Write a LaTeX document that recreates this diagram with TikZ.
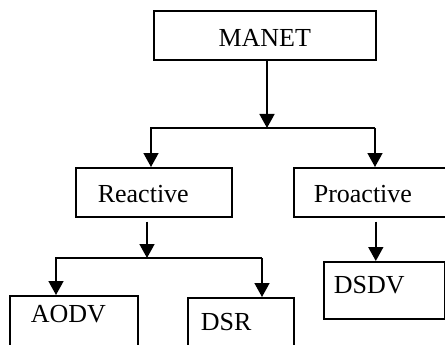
\documentclass[tikz,border=0pt]{standalone}
\usepackage{fontspec}
\setmainfont{Liberation Serif}
\usetikzlibrary{arrows.meta}
\tikzset{
  box/.style={draw, line width=1.6pt, anchor=north west, inner ysep=0pt, align=left, font=\fontsize{26}{30}\selectfont},
}
\begin{document}
\begin{tikzpicture}[x=1pt,y=-1pt,line width=1.6pt,>={Triangle[length=14pt,width=15pt]}]
  \useasboundingbox (0,0) rectangle (445,345);
  \fill[white] (0,0) rectangle (445,345);
  \clip (0,0) rectangle (445,345);
  % boxes
  \node[box,text width=202pt,inner xsep=10pt,align=center,text height=36pt,text depth=13pt] (manet) at (153,10) {MANET};
  \node[box,text width=112pt,inner xsep=22pt,text height=35pt,text depth=14pt] (reactive) at (75,167) {Reactive};
  \node[box,text width=124pt,inner xsep=20pt,text height=35pt,text depth=14pt] (proactive) at (293,167) {Proactive};
  \node[box,text width=86pt,inner xsep=21pt,text height=27pt,text depth=33pt] (aodv) at (9,295) {AODV};
  \node[box,text width=80pt,inner xsep=13pt,text height=33pt,text depth=27pt] (dsr) at (187,297) {DSR};
  \node[box,text width=101pt,inner xsep=10pt,text height=32pt,text depth=25pt] (dsdv) at (323,261) {DSDV};
  % first split
  \coordinate (mid1) at (267,128);
  \coordinate (splitl) at (151,128);
  \coordinate (splitr) at (375,128);
  \draw[->] (mid1 |- manet.south) -- (mid1);
  \draw[->] (splitr) -- (splitl) -- (splitl |- reactive.north);
  \draw[->] (splitr) -- (splitr |- proactive.north);
  % second split
  \coordinate (mid2) at (147,258);
  \coordinate (splitll) at (56,258);
  \coordinate (splitlr) at (262,258);
  \draw[->,shorten <=4pt] (mid2 |- reactive.south) -- (mid2);
  \draw[->] (splitlr) -- (splitll) -- (splitll |- aodv.north);
  \draw[->] (splitlr) -- (splitlr |- dsr.north);
  \draw[->,shorten <=4pt] (proactive.south) -- (proactive.south |- dsdv.north);
\end{tikzpicture}
\end{document}
